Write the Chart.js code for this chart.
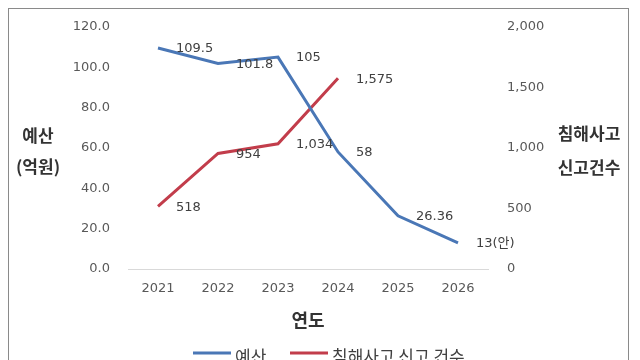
<!DOCTYPE html>
<html><head><meta charset="utf-8">
<script src="https://cdn.jsdelivr.net/npm/chart.js@4"></script>
<style>
html,body{margin:0;padding:0;background:#fff;overflow:hidden;}
#wrap{position:relative;width:640px;height:360px;}
#frame{position:absolute;left:8px;top:8px;width:621px;height:400px;border:1.5px solid #8a8a8a;box-sizing:border-box;}
canvas{position:absolute;left:0;top:0;}
</style></head>
<body>
<div id="wrap"><div id="frame"></div><canvas id="c" width="640" height="360"></canvas></div>
<script>
const years = ['2021','2022','2023','2024','2025','2026'];
const budget = [109.5, 101.8, 105, 58, 26.36, 13];
const budgetLabels = ['109.5','101.8','105','58','26.36','13(안)'];
const reports = [518, 954, 1034, 1575, null, null];
const reportLabels = ['518','954','1,034','1,575', '', ''];
const leftTicks = [0,20,40,60,80,100,120];
const rightTicks = [0,500,1000,1500,2000];
const seriesNames = ['예산','침해사고 신고 건수'];
const axisTitles = {left:['예산','(억원)'], right:['침해사고','신고건수'], x:'연도'};

const FONT = "'Noto Sans CJK KR', 'Noto Sans', sans-serif";
const NUMFONT = "'DejaVu Sans', 'Noto Sans CJK KR', sans-serif";
const BLUE = '#4a77b6';
const RED = '#c23d4b';

const labelPlugin = {
  id:'labels',
  afterDatasetsDraw(chart){
    const ctx = chart.ctx;
    ctx.save();
    ctx.font = '13px ' + NUMFONT;
    ctx.fillStyle = '#404040';
    ctx.textAlign = 'left';
    ctx.textBaseline = 'middle';
    const sets = [budgetLabels, reportLabels];
    chart.data.datasets.forEach((ds, i) => {
      const meta = chart.getDatasetMeta(i);
      meta.data.forEach((pt, j) => {
        const t = sets[i][j];
        if (!t || ds.data[j] == null) return;
        ctx.fillText(t, pt.x + 18, pt.y + 1);
      });
    });
    // axis titles
    ctx.font = 'bold 17px ' + FONT;
    ctx.fillStyle = '#333333';
    ctx.textAlign = 'center';
    ctx.fillText(axisTitles.left[0], 38, 136);
    ctx.fillText(axisTitles.left[1], 38, 167);
    ctx.fillText(axisTitles.right[0], 589, 134);
    ctx.fillText(axisTitles.right[1], 589, 168);
    // legend
    ctx.font = '17px ' + FONT;
    ctx.fillStyle = '#404040';
    ctx.textAlign = 'left';
    const items = [{x:193, color:BLUE, name:seriesNames[0]}, {x:290, color:RED, name:seriesNames[1]}];
    items.forEach(it => {
      ctx.strokeStyle = it.color;
      ctx.lineWidth = 3;
      ctx.beginPath(); ctx.moveTo(it.x, 353); ctx.lineTo(it.x + 38, 353); ctx.stroke();
      ctx.fillText(it.name, it.x + 42, 357);
    });
    ctx.restore();
  }
};

new Chart(document.getElementById('c'), {
  type:'line',
  data:{
    labels: years,
    datasets:[
      {label:seriesNames[0], data:budget, borderColor:BLUE, borderWidth:3, pointRadius:0, tension:0, yAxisID:'y', fill:false},
      {label:seriesNames[1], data:reports, borderColor:RED, borderWidth:3, pointRadius:0, tension:0, yAxisID:'y1', fill:false}
    ]
  },
  plugins:[labelPlugin],
  options:{
    responsive:false,
    animation:false,
    layout:{padding:{top:20,left:0,right:0,bottom:0}},
    plugins:{legend:{display:false}, tooltip:{enabled:false}},
    scales:{
      x:{
        offset:true,
        grid:{display:false, drawTicks:false},
        border:{display:true, color:'#d9d9d9', width:1},
        ticks:{font:{size:13, family:NUMFONT}, color:'#595959', padding:12},
        title:{display:true, text:axisTitles.x, font:{size:18, weight:'bold', family:FONT}, color:'#333333', padding:{top:8,bottom:29}},
        afterFit(s){ s.height = 91; }
      },
      y:{
        position:'left', min:0, max:120,
        afterBuildTicks(s){ s.ticks = leftTicks.map(v=>({value:v})); },
        grid:{display:false, drawTicks:false},
        border:{display:false},
        ticks:{font:{size:13, family:NUMFONT}, color:'#595959', padding:18, callback:v=>v.toFixed(1)},
        afterFit(s){ s.width = 128; }
      },
      y1:{
        position:'right', min:0, max:2000,
        afterBuildTicks(s){ s.ticks = rightTicks.map(v=>({value:v})); },
        grid:{display:false, drawTicks:false},
        border:{display:false},
        ticks:{font:{size:13, family:NUMFONT}, color:'#595959', padding:19, callback:v=>v.toLocaleString('en-US')},
        afterFit(s){ s.width = 152; }
      }
    }
  }
});
</script>
</body></html>
